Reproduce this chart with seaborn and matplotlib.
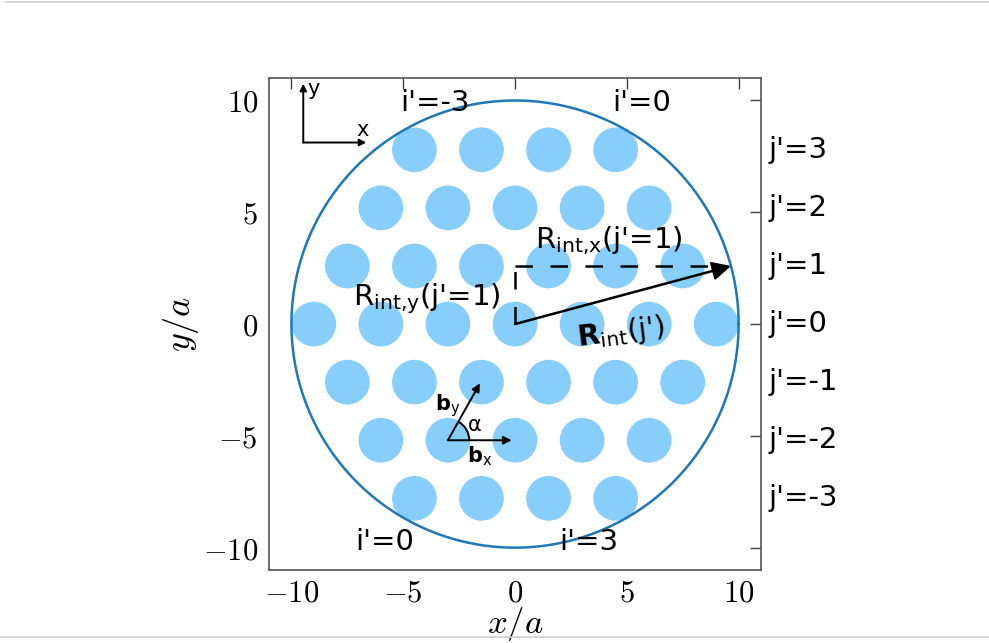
import numpy as np
import pandas as pd
import matplotlib
matplotlib.use("Agg")
import matplotlib.pyplot as plt
from matplotlib.patches import Arc
from matplotlib.lines import Line2D
import seaborn as sns

# Hole centres of the triangular lattice (units of a), row by row j' = 3 ... -3
row_y = [7.794, 5.196, 2.598, 0.0, -2.598, -5.196, -7.794]
row_x = [
    [-4.5, -1.5, 1.5, 4.5],
    [-6.0, -3.0, 0.0, 3.0, 6.0],
    [-7.5, -4.5, -1.5, 1.5, 4.5, 7.5],
    [-9.0, -6.0, -3.0, 0.0, 3.0, 6.0, 9.0],
    [-7.5, -4.5, -1.5, 1.5, 4.5, 7.5],
    [-6.0, -3.0, 0.0, 3.0, 6.0],
    [-4.5, -1.5, 1.5, 4.5],
]
hole_radius = 1.0
outer_radius = 10.0

j_labels = ["j'=3", "j'=2", "j'=1", "j'=0", "j'=-1", "j'=-2", "j'=-3"]
i_labels_top = [("i'=-3", -3.6), ("i'=0", 5.65)]
i_labels_bottom = [("i'=0", -5.85), ("i'=3", 3.3)]
tick_vals = [-10, -5, 0, 5, 10]
tick_text = ["$-10$", "$-5$", "$0$", "$5$", "$10$"]

# R_int(j'=1): end point on the outer circle
rint_end = (9.66, 2.598)
# lattice vectors drawn from the hole at (-3, -5.196)
b_origin = (-3.0, -5.196)
b_x_tip = (-0.15, -5.196)
b_y_tip = (-1.57, -2.65)

holes = pd.DataFrame(
    [(x, y) for y, xs in zip(row_y, row_x) for x in xs], columns=["x", "y"]
)

sns.set_style("white")
plt.rcParams["mathtext.fontset"] = "cm"
plt.rcParams["font.family"] = ["DejaVu Sans"]
plt.rcParams["text.color"] = "black"
plt.rcParams["axes.labelcolor"] = "black"
plt.rcParams["xtick.labelcolor"] = "black"
plt.rcParams["ytick.labelcolor"] = "black"

fig = plt.figure(figsize=(9.89, 6.43), dpi=100)
ax = fig.add_axes([0.272, 0.1135, 0.4975, 0.765])
ax.set_xlim(-11, 11)
ax.set_ylim(-11, 11)
ax.set_aspect("equal", adjustable="box")

# marker area so the holes have radius hole_radius in data units
fig.canvas.draw()
p0 = ax.transData.transform((0, 0))
p1 = ax.transData.transform((2 * hole_radius, 0))
diam_pt = (p1[0] - p0[0]) * 72.0 / fig.dpi
sns.scatterplot(data=holes, x="x", y="y", s=diam_pt ** 2, color="#87CEFA",
                edgecolor="none", linewidth=0, ax=ax, zorder=2)

# outer boundary circle
theta = np.linspace(0, 2 * np.pi, 721)
circle = pd.DataFrame({"x": outer_radius * np.cos(theta),
                       "y": outer_radius * np.sin(theta)})
sns.lineplot(data=circle, x="x", y="y", sort=False, estimator=None,
             color="#1f77b4", linewidth=1.8, ax=ax, zorder=3)

# dashed projections of R_int
dash = (0, (7, 7))
ax.plot([0, rint_end[0] - 0.3], [rint_end[1], rint_end[1]], color="black",
        lw=1.8, linestyle=dash, zorder=4)
ax.plot([0, 0], [0, rint_end[1]], color="black", lw=1.8, linestyle=dash,
        zorder=4)
ax.annotate("", xy=rint_end, xytext=(0, 0),
            arrowprops=dict(arrowstyle="-|>", color="black", lw=1.8,
                            mutation_scale=28, shrinkA=0, shrinkB=0),
            zorder=5)

txt = dict(color="black", math_fontfamily="dejavusans")
ax.text(4.2, 3.75, r"R$_{\mathrm{int{,}x}}$(j'=1)", fontsize=21,
        ha="center", va="center", **txt)
ax.text(-3.95, 1.15, r"R$_{\mathrm{int{,}y}}$(j'=1)", fontsize=21,
        ha="center", va="center", **txt)
ax.text(4.75, -0.4, r"$\mathbf{R}_{\mathrm{int}}$(j')", fontsize=21,
        ha="center", va="center", rotation=7, **txt)

# lattice vectors and angle
for tip in (b_x_tip, b_y_tip):
    ax.annotate("", xy=tip, xytext=b_origin,
                arrowprops=dict(arrowstyle="-|>", color="black", lw=1.4,
                                mutation_scale=12, shrinkA=0, shrinkB=0),
                zorder=5)
ax.add_patch(Arc(b_origin, 1.9, 1.9, theta1=0, theta2=60, color="black",
                 lw=1.4, zorder=5))
ax.text(-3.0, -3.65, r"$\mathbf{b}_{\mathrm{y}}$", fontsize=15, ha="center",
        va="center", **txt)
ax.text(-1.6, -5.9, r"$\mathbf{b}_{\mathrm{x}}$", fontsize=15, ha="center",
        va="center", **txt)
ax.text(-1.8, -4.5, "α", fontsize=15, ha="center", va="center",
        color="black")

# small x/y orientation axes
for tip in ((-9.47, 10.75), (-6.65, 8.12)):
    ax.annotate("", xy=tip, xytext=(-9.47, 8.12),
                arrowprops=dict(arrowstyle="-|>", color="black", lw=1.4,
                                mutation_scale=10, shrinkA=0, shrinkB=0),
                zorder=5)
ax.text(-9.3, 10.5, "y", fontsize=15, ha="left", va="center")
ax.text(-6.8, 8.7, "x", fontsize=15, ha="center", va="center")

for label, x in i_labels_top:
    ax.text(x, 9.9, label, fontsize=21, ha="center", va="center")
for label, x in i_labels_bottom:
    ax.text(x, -9.73, label, fontsize=21, ha="center", va="center")
for label, y in zip(j_labels, row_y):
    ax.text(11.35, y, label, fontsize=21, ha="left", va="center",
            clip_on=False)

ax.set_xticks(tick_vals)
ax.set_yticks(tick_vals)
ax.set_xticklabels(tick_text, fontsize=22)
ax.set_yticklabels(tick_text, fontsize=22)
ax.tick_params(direction="in", length=8, width=1.0, color="#444444",
               top=True, right=True, pad=8)
ax.tick_params(axis="x", pad=6)
for s in ax.spines.values():
    s.set_color("#555555")
    s.set_linewidth(1.2)
ax.set_xlabel("$x/a$", fontsize=25, labelpad=-2)
ax.set_ylabel("$y/a$", fontsize=26, labelpad=1)

# thin page rules at the top and bottom
fig.add_artist(Line2D([0.005, 1.0], [0.9965, 0.9965], color="#d0d0d0",
                      lw=1.2, transform=fig.transFigure))
fig.add_artist(Line2D([0.0, 1.0], [0.0095, 0.0095], color="#d0d0d0",
                      lw=1.2, transform=fig.transFigure))

fig.savefig("out.png", dpi=100)
